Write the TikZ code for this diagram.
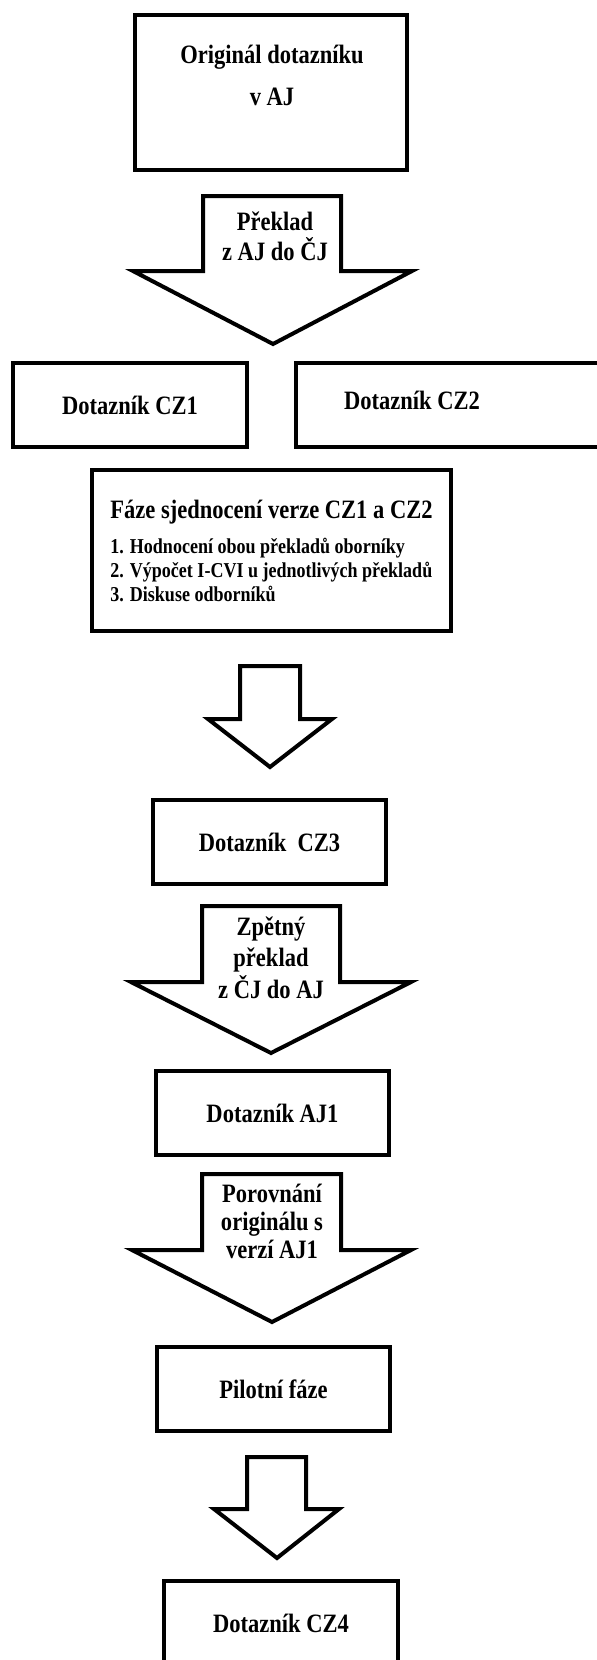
\documentclass[tikz,border=0pt]{standalone}
\usepackage{fontspec}
\setmainfont{Liberation Serif}[FakeStretch=0.85]

\begin{document}
\begin{tikzpicture}[
  x=1pt, y=-1pt,
  box/.style={
    draw, line width=4pt, inner sep=0pt,
    font=\fontsize{26.5}{30}\selectfont\bfseries,
    align=center
  },
  blk/.style={
    draw, line width=4pt, line join=miter, fill=white
  },
  atxt/.style={
    font=\fontsize{26.5}{30}\selectfont\bfseries,
    align=center, inner sep=0pt
  }
]
\useasboundingbox (0,0) rectangle (597,1660);

%% -- Original ---------------------------------------------------------
\node[box, minimum width=272pt, minimum height=155pt] (orig) at (271,92.5) {};
\node[atxt, font=\fontsize{26.5}{42}\selectfont\bfseries, anchor=base]
  (origt) at (272,105) {Originál dotazníku\\v AJ};

%% -- Preklad ----------------------------------------------------------
\draw[blk] (203,196) -- (341,196) -- (341,271) -- (412,271)
  -- (273,344) -- (133,271) -- (203,271) -- cycle;
\node[atxt, anchor=base] (a1t) at (275,260) {Překlad\\z AJ do ČJ};

%% -- CZ1 / CZ2 --------------------------------------------------------
\node[box, minimum width=234pt, minimum height=84pt] (cz1) at (130,405) {Dotazník CZ1};
\node[box, minimum width=344pt, minimum height=84pt] (cz2) at (468,405) {};
\node[atxt, anchor=base] (cz2t) at (412,409) {Dotazník CZ2};

%% -- Sjednoceni -------------------------------------------------------
\node[box, minimum width=359pt, minimum height=161pt,
      align=left, font=\fontsize{21.2}{24}\selectfont\bfseries] (faze) at (271.5,550.5)
  {{\fontsize{26.5}{24}\selectfont Fáze sjednocení verze CZ1 a CZ2}\\[11pt]
   1. Hodnocení obou překladů oborníky\\
   2. Výpočet I-CVI u jednotlivých překladů\\
   3. Diskuse odborníků};

\draw[blk] (240,666) -- (300,666) -- (300,719) -- (332,719)
  -- (270,767) -- (208,719) -- (240,719) -- cycle;

%% -- CZ3 --------------------------------------------------------------
\node[box, minimum width=233pt, minimum height=84pt] (cz3) at (269.5,842) {Dotazník~~CZ3};

\draw[blk] (202,906) -- (340,906) -- (340,982) -- (411,982)
  -- (271,1053) -- (131,982) -- (202,982) -- cycle;
\node[atxt, font=\fontsize{26.5}{31.5}\selectfont\bfseries, anchor=base]
  (a3t) at (271,998) {Zpětný\\překlad\\z ČJ do AJ};

%% -- AJ1 --------------------------------------------------------------
\node[box, minimum width=233pt, minimum height=84pt] (aj1) at (272.5,1113) {Dotazník AJ1};

\draw[blk] (202,1174) -- (341,1174) -- (341,1250) -- (411,1250)
  -- (272,1322) -- (132,1250) -- (202,1250) -- cycle;
\node[atxt, font=\fontsize{26.5}{28}\selectfont\bfseries, anchor=base]
  (a4t) at (272,1258) {Porovnání\\originálu s\\ verzí AJ1};

%% -- Pilot ------------------------------------------------------------
\node[box, minimum width=233pt, minimum height=84pt] (pilot) at (273.5,1389) {Pilotní fáze};

\draw[blk] (247,1457) -- (306,1457) -- (306,1509) -- (339,1509)
  -- (277,1558) -- (214,1509) -- (247,1509) -- cycle;

%% -- CZ4 --------------------------------------------------------------
\node[box, minimum width=234pt, minimum height=84pt] (cz4) at (281,1623) {Dotazník CZ4};

\end{tikzpicture}
\end{document}
